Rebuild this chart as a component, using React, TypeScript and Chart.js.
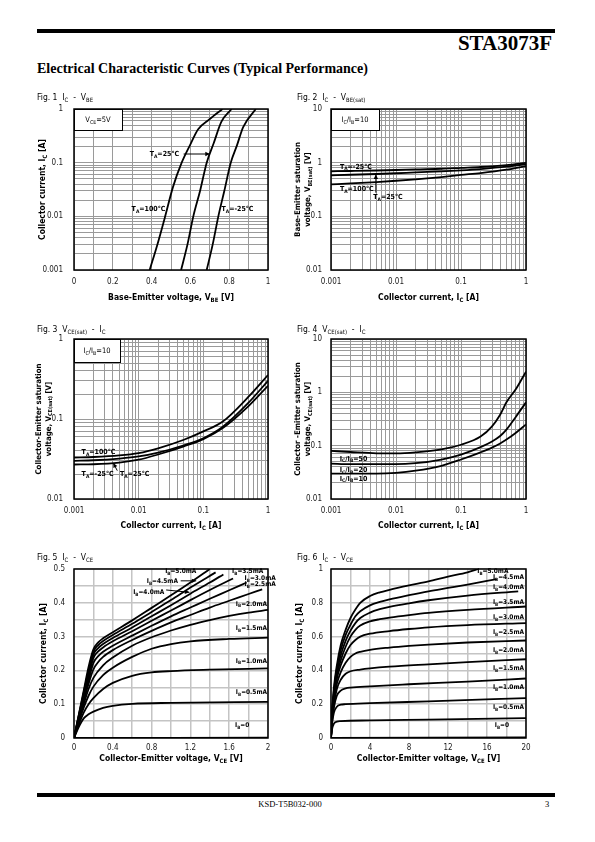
import React, { useEffect, useRef } from 'react';
import { Chart, registerables } from 'chart.js';

Chart.register(...registerables);

const SANS = "'Liberation Sans Narrow', 'DejaVu Sans Condensed', 'Liberation Sans', sans-serif";
const SERIF = "'Liberation Serif', 'Times New Roman', serif";

type P = [number, number];

// ---------- Fig. 1  IC - VBE  (x: VBE [V], y: IC [A]) ----------
const fig1Ta100: P[] = [[0.39, 0.001], [0.43, 0.003], [0.47, 0.01], [0.51, 0.035], [0.555, 0.1], [0.6, 0.22], [0.64, 0.42], [0.7, 0.65], [0.765, 1]];
const fig1Ta25: P[] = [[0.552, 0.001], [0.585, 0.003], [0.615, 0.01], [0.65, 0.03], [0.684, 0.1], [0.72, 0.23], [0.76, 0.58], [0.812, 1]];
const fig1TaM25: P[] = [[0.684, 0.001], [0.715, 0.003], [0.744, 0.01], [0.775, 0.03], [0.808, 0.1], [0.84, 0.21], [0.872, 0.46], [0.937, 1]];
const fig1XTicks = ['0', '0.2', '0.4', '0.6', '0.8', '1'];
const fig1YTicks = ['0.001', '0.01', '0.1', '1'];

// ---------- Fig. 2  VBE(sat) - IC ----------
const fig2Ic = [0.001, 0.002, 0.005, 0.01, 0.02, 0.05, 0.1, 0.2, 0.5, 1];
const fig2VbeM25 = [0.69, 0.7, 0.715, 0.73, 0.75, 0.77, 0.8, 0.83, 0.9, 0.99];
const fig2Vbe25 = [0.58, 0.595, 0.615, 0.635, 0.66, 0.69, 0.72, 0.76, 0.84, 0.94];
const fig2Vbe100 = [0.395, 0.41, 0.435, 0.46, 0.49, 0.54, 0.59, 0.64, 0.74, 0.86];
const fig2XTicks = ['0.001', '0.01', '0.1', '1'];
const fig2YTicks = ['0.01', '0.1', '1', '10'];

// ---------- Fig. 3  VCE(sat) - IC (IC/IB = 10) ----------
const fig3Ic = [0.001, 0.002, 0.005, 0.01, 0.02, 0.05, 0.1, 0.2, 0.5, 1];
const fig3Vce100 = [0.033, 0.0335, 0.035, 0.0375, 0.043, 0.055, 0.07, 0.093, 0.19, 0.355];
const fig3Vce25 = [0.03, 0.0305, 0.032, 0.034, 0.038, 0.047, 0.0575, 0.08, 0.16, 0.3];
const fig3VceM25 = [0.027, 0.0272, 0.0285, 0.031, 0.036, 0.0455, 0.056, 0.077, 0.145, 0.26];
const fig3XTicks = ['0.001', '0.01', '0.1', '1'];
const fig3YTicks = ['0.01', '0.1', '1'];

// ---------- Fig. 4  VCE(sat) - IC ----------
const fig4Ic = [0.001, 0.002, 0.005, 0.01, 0.02, 0.05, 0.1, 0.2, 0.3, 0.4, 0.5, 0.7, 1];
const fig4Vce50 = [0.08, 0.076, 0.072, 0.072, 0.075, 0.085, 0.104, 0.148, 0.23, 0.38, 0.65, 1.15, 2.45];
const fig4Vce20 = [0.046, 0.045, 0.045, 0.045, 0.047, 0.055, 0.068, 0.094, 0.12, 0.152, 0.2, 0.35, 0.65];
const fig4Vce10 = [0.03, 0.03, 0.03, 0.031, 0.034, 0.042, 0.055, 0.075, 0.092, 0.11, 0.13, 0.175, 0.25];
const fig4XTicks = ['0.001', '0.01', '0.1', '1'];
const fig4YTicks = ['0.01', '0.1', '1', '10'];

// ---------- Fig. 5  IC - VCE (0..2 V) ----------
const fig5Ib0: P[] = [[0, 0], [2, 0.001]];
const fig5Ib05: P[] = [[0, 0], [0.05, 0.033], [0.1, 0.058], [0.15, 0.07], [0.2, 0.078], [0.3, 0.089], [0.4, 0.095], [0.6, 0.101], [1.0, 0.104], [2.0, 0.107]];
const fig5Ib10: P[] = [[0, 0], [0.05, 0.04], [0.1, 0.075], [0.15, 0.1], [0.2, 0.118], [0.3, 0.145], [0.4, 0.163], [0.6, 0.184], [0.8, 0.194], [1.0, 0.198], [1.4, 0.202], [2.0, 0.206]];
const fig5Ib15: P[] = [[0, 0], [0.05, 0.048], [0.1, 0.09], [0.15, 0.125], [0.2, 0.152], [0.3, 0.186], [0.4, 0.208], [0.6, 0.24], [0.8, 0.264], [1.0, 0.278], [1.2, 0.286], [1.6, 0.293], [2.0, 0.297]];
const fig5Ib20: P[] = [[0, 0], [0.05, 0.053], [0.1, 0.1], [0.15, 0.145], [0.2, 0.178], [0.3, 0.215], [0.4, 0.238], [0.6, 0.273], [0.8, 0.298], [1.0, 0.318], [1.2, 0.335], [1.4, 0.349], [1.6, 0.361], [1.8, 0.371], [2.0, 0.379]];
const fig5Ib25: P[] = [[0, 0], [0.05, 0.057], [0.1, 0.11], [0.15, 0.16], [0.2, 0.203], [0.25, 0.225], [0.3, 0.24], [0.4, 0.26], [0.6, 0.29], [0.8, 0.317], [1.0, 0.342], [1.2, 0.364], [1.4, 0.386], [1.6, 0.406], [1.8, 0.426], [1.94, 0.44]];
const fig5Ib30: P[] = [[0, 0], [0.05, 0.06], [0.1, 0.118], [0.15, 0.17], [0.2, 0.222], [0.25, 0.242], [0.3, 0.255], [0.4, 0.273], [0.6, 0.303], [0.8, 0.332], [1.0, 0.36], [1.2, 0.386], [1.4, 0.412], [1.6, 0.437], [1.78, 0.46]];
const fig5Ib35: P[] = [[0, 0], [0.05, 0.062], [0.1, 0.125], [0.15, 0.18], [0.2, 0.237], [0.25, 0.256], [0.3, 0.268], [0.4, 0.286], [0.6, 0.316], [0.8, 0.347], [1.0, 0.377], [1.2, 0.408], [1.4, 0.438], [1.64, 0.472]];
const fig5Ib40: P[] = [[0, 0], [0.05, 0.065], [0.1, 0.13], [0.15, 0.19], [0.2, 0.247], [0.25, 0.266], [0.3, 0.278], [0.4, 0.296], [0.6, 0.327], [0.8, 0.36], [1.0, 0.393], [1.2, 0.427], [1.4, 0.46], [1.54, 0.484]];
const fig5Ib45: P[] = [[0, 0], [0.05, 0.068], [0.1, 0.135], [0.15, 0.2], [0.2, 0.255], [0.25, 0.275], [0.3, 0.287], [0.4, 0.305], [0.6, 0.338], [0.8, 0.373], [1.0, 0.408], [1.2, 0.445], [1.46, 0.49]];
const fig5Ib50: P[] = [[0, 0], [0.05, 0.07], [0.1, 0.14], [0.15, 0.21], [0.2, 0.262], [0.25, 0.283], [0.3, 0.295], [0.4, 0.313], [0.6, 0.348], [0.8, 0.385], [1.0, 0.422], [1.2, 0.46], [1.4, 0.5]];
const fig5XTicks = ['0', '0.4', '0.8', '1.2', '1.6', '2'];
const fig5YTicks = ['0', '0.1', '0.2', '0.3', '0.4', '0.5'];

// ---------- Fig. 6  IC - VCE (0..20 V) ----------
const fig6Ib0: P[] = [[0, 0], [20, 0.003]];
const fig6Ib05: P[] = [[0, 0], [0.1, 0.05], [0.3, 0.085], [0.6, 0.097], [1, 0.1], [4, 0.104], [10, 0.109], [20, 0.118]];
const fig6Ib10: P[] = [[0, 0], [0.1, 0.08], [0.3, 0.15], [0.6, 0.185], [1, 0.197], [1.5, 0.2], [4, 0.206], [10, 0.217], [20, 0.236]];
const fig6Ib15: P[] = [[0, 0], [0.1, 0.09], [0.3, 0.18], [0.6, 0.25], [1, 0.28], [1.5, 0.293], [2, 0.298], [4, 0.306], [8, 0.318], [14, 0.334], [20, 0.352]];
const fig6Ib20: P[] = [[0, 0], [0.1, 0.1], [0.3, 0.2], [0.6, 0.29], [1, 0.345], [1.5, 0.38], [2, 0.395], [3, 0.405], [4, 0.412], [6, 0.422], [10, 0.436], [14, 0.449], [20, 0.466]];
const fig6Ib25: P[] = [[0, 0], [0.1, 0.11], [0.3, 0.22], [0.6, 0.32], [1, 0.39], [1.5, 0.445], [2, 0.48], [2.5, 0.5], [3, 0.51], [4, 0.522], [6, 0.535], [8, 0.545], [10, 0.553], [14, 0.565], [20, 0.577]];
const fig6Ib30: P[] = [[0, 0], [0.1, 0.12], [0.3, 0.235], [0.6, 0.35], [1, 0.43], [1.5, 0.5], [2, 0.55], [2.5, 0.58], [3, 0.6], [4, 0.617], [6, 0.633], [8, 0.645], [10, 0.655], [14, 0.668], [20, 0.68]];
const fig6Ib35: P[] = [[0, 0], [0.1, 0.13], [0.3, 0.25], [0.6, 0.37], [1, 0.46], [1.5, 0.54], [2, 0.6], [2.5, 0.64], [3, 0.665], [4, 0.69], [5, 0.703], [6, 0.712], [8, 0.727], [10, 0.74], [14, 0.758], [20, 0.778]];
const fig6Ib40: P[] = [[0, 0], [0.1, 0.135], [0.3, 0.265], [0.6, 0.39], [1, 0.49], [1.5, 0.575], [2, 0.635], [2.5, 0.68], [3, 0.71], [4, 0.742], [5, 0.762], [6, 0.776], [8, 0.797], [10, 0.815], [14, 0.843], [19.2, 0.868]];
const fig6Ib45: P[] = [[0, 0], [0.1, 0.14], [0.3, 0.28], [0.6, 0.41], [1, 0.52], [1.5, 0.61], [2, 0.67], [2.5, 0.72], [3, 0.75], [4, 0.785], [5, 0.805], [6, 0.82], [8, 0.845], [10, 0.868], [12, 0.888], [14, 0.908], [17, 0.94]];
const fig6Ib50: P[] = [[0, 0], [0.1, 0.15], [0.3, 0.3], [0.6, 0.43], [1, 0.55], [1.5, 0.64], [2, 0.71], [2.5, 0.76], [3, 0.8], [4, 0.84], [5, 0.862], [6, 0.877], [8, 0.903], [10, 0.927], [12, 0.955], [14, 0.98], [15.1, 1.0]];
const fig6XTicks = ['0', '4', '8', '12', '16', '20'];
const fig6YTicks = ['0', '0.2', '0.4', '0.6', '0.8', '1'];

// ---------- helpers ----------
const zip = (xs: number[], ys: number[]): P[] => xs.map((x, i) => [x, ys[i]]);

function logGrid(min: number, max: number): number[] {
  const out: number[] = [];
  const e0 = Math.round(Math.log10(min));
  const e1 = Math.round(Math.log10(max));
  for (let e = e0; e < e1; e++) for (let m = 1; m < 10; m++) out.push(parseFloat((m * Math.pow(10, e)).toPrecision(6)));
  out.push(max);
  return out;
}
function linGrid(min: number, max: number, step: number): number[] {
  const out: number[] = [];
  const n = Math.round((max - min) / step);
  for (let i = 0; i <= n; i++) out.push(parseFloat((min + i * step).toPrecision(10)));
  return out;
}

type Seg = { t: string; sub: boolean };
function parseRich(s: string): Seg[] {
  const out: Seg[] = [];
  const re = /_\{([^}]*)\}/g;
  let last = 0;
  let m: RegExpExecArray | null;
  while ((m = re.exec(s))) {
    if (m.index > last) out.push({ t: s.slice(last, m.index), sub: false });
    out.push({ t: m[1], sub: true });
    last = re.lastIndex;
  }
  if (last < s.length) out.push({ t: s.slice(last), sub: false });
  return out;
}
function drawRich(ctx: CanvasRenderingContext2D, s: string, x: number, y: number, size: number, bold: boolean, align: 'left' | 'center' | 'right', family = SANS) {
  const segs = parseRich(s);
  const setFont = (sg: Seg) => { ctx.font = `${bold ? 'bold ' : ''}${sg.sub ? size * 0.7 : size}px ${family}`; };
  let total = 0;
  for (const sg of segs) { setFont(sg); total += ctx.measureText(sg.t).width; }
  let cx = align === 'center' ? x - total / 2 : align === 'right' ? x - total : x;
  ctx.textAlign = 'left';
  ctx.textBaseline = 'alphabetic';
  for (const sg of segs) {
    setFont(sg);
    ctx.fillText(sg.t, cx, sg.sub ? y + size * 0.25 : y);
    cx += ctx.measureText(sg.t).width;
  }
}

type Label = { x: number; y: number; t: string; align: 'left' | 'center' | 'right'; size?: number; bold?: boolean };
type Arrow = { x1: number; y1: number; x2: number; y2: number };
type Spec = {
  left: number; top: number; w: number; h: number;
  axisW: number; axisH: number; padTop: number; padRight: number;
  xPad: number; yPad: number;
  xType: 'linear' | 'logarithmic'; yType: 'linear' | 'logarithmic';
  xMin: number; xMax: number; yMin: number; yMax: number;
  xGrid: number[]; yGrid: number[]; xTicks: string[]; yTicks: string[];
  gridColor: string; gridWidth: number;
  series: P[][];
  labels: Label[]; arrows: Arrow[];
  box?: { t: string; w: number; h: number };
  figTitle: string; xTitle: string; yTitle: string[]; yTitleX: number[];
  xTitleY: number;
};

function tickCb(labels: string[]) {
  return (v: number) => {
    const l = labels.find((t) => { const n = parseFloat(t); return Math.abs(n - v) <= 1e-7 * Math.max(Math.abs(n), 1e-6); });
    return l === undefined ? '' : l;
  };
}

function axis(spec: Spec, isY: boolean) {
  const grid = isY ? spec.yGrid : spec.xGrid;
  return {
    type: isY ? spec.yType : spec.xType,
    position: isY ? 'left' : 'bottom',
    min: isY ? spec.yMin : spec.xMin,
    max: isY ? spec.yMax : spec.xMax,
    afterBuildTicks: (s: any) => { s.ticks = grid.map((v) => ({ value: v })); },
    afterFit: (s: any) => { if (isY) s.width = spec.axisW; else s.height = spec.axisH; },
    grid: { color: spec.gridColor, lineWidth: spec.gridWidth, drawTicks: false },
    border: { display: false },
    ticks: {
      autoSkip: false, maxRotation: 0, minRotation: 0,
      padding: isY ? spec.yPad : spec.xPad,
      color: '#1a1a1a',
      font: { family: SANS, size: 8 },
      callback: tickCb(isY ? spec.yTicks : spec.xTicks),
    },
  };
}

function overlay(spec: Spec) {
  return {
    id: 'overlay',
    afterDatasetsDraw(chart: any) {
      const { ctx, chartArea: a, scales } = chart;
      const xs = scales.x, ys = scales.y;
      ctx.save();
      if (spec.box) {
        ctx.fillStyle = '#fff';
        ctx.fillRect(a.left, a.top, spec.box.w, spec.box.h);
        ctx.strokeStyle = '#000';
        ctx.lineWidth = 1;
        ctx.strokeRect(a.left + 0.5, a.top + 0.5, spec.box.w, spec.box.h);
        ctx.fillStyle = '#000';
        drawRich(ctx, spec.box.t, a.left + spec.box.w / 2, a.top + spec.box.h / 2 + 2.5, 7.5, false, 'center');
      }
      ctx.strokeStyle = '#000';
      ctx.fillStyle = '#000';
      for (const ar of spec.arrows) {
        const x1 = xs.getPixelForValue(ar.x1), y1 = ys.getPixelForValue(ar.y1);
        const x2 = xs.getPixelForValue(ar.x2), y2 = ys.getPixelForValue(ar.y2);
        ctx.lineWidth = 1;
        ctx.beginPath(); ctx.moveTo(x1, y1); ctx.lineTo(x2, y2); ctx.stroke();
        const ang = Math.atan2(y2 - y1, x2 - x1);
        const L = 4.5, Wd = 2.2;
        ctx.beginPath();
        ctx.moveTo(x2, y2);
        ctx.lineTo(x2 - L * Math.cos(ang) + Wd * Math.sin(ang), y2 - L * Math.sin(ang) - Wd * Math.cos(ang));
        ctx.lineTo(x2 - L * Math.cos(ang) - Wd * Math.sin(ang), y2 - L * Math.sin(ang) + Wd * Math.cos(ang));
        ctx.closePath(); ctx.fill();
      }
      for (const l of spec.labels) {
        const size = l.size ?? 7;
        const px = xs.getPixelForValue(l.x), py = ys.getPixelForValue(l.y);
        drawRich(ctx, l.t, px, py + size * 0.35, size, l.bold ?? true, l.align);
      }
      ctx.strokeStyle = '#000';
      ctx.lineWidth = 1.5;
      ctx.strokeRect(a.left, a.top, a.right - a.left, a.bottom - a.top);
      ctx.fillStyle = '#000';
      drawRich(ctx, spec.figTitle, 7, 13.5, 8.5, false, 'left');
      drawRich(ctx, spec.xTitle, (a.left + a.right) / 2, spec.xTitleY, 8.5, true, 'center');
      const ySize = spec.yTitle.length > 1 ? 7.8 : 8.5;
      spec.yTitle.forEach((t, i) => {
        ctx.save();
        ctx.translate(spec.yTitleX[i], (a.top + a.bottom) / 2);
        ctx.rotate(-Math.PI / 2);
        drawRich(ctx, t, 0, 0, ySize, true, 'center');
        ctx.restore();
      });
      ctx.restore();
    },
  };
}

function Panel({ spec }: { spec: Spec }) {
  const ref = useRef<HTMLCanvasElement>(null);
  useEffect(() => {
    const cfg: any = {
      type: 'scatter',
      data: {
        datasets: spec.series.map((pts) => ({
          data: pts.map(([x, y]) => ({ x, y })),
          showLine: true,
          borderColor: '#000',
          borderWidth: 1.8,
          pointRadius: 0,
          fill: false,
          cubicInterpolationMode: 'monotone',
        })),
      },
      options: {
        animation: false,
        responsive: false,
        maintainAspectRatio: false,
        events: [],
        layout: { padding: { top: spec.padTop, right: spec.padRight, left: 0, bottom: 0 } },
        plugins: { legend: { display: false }, tooltip: { enabled: false }, title: { display: false } },
        scales: { x: axis(spec, false), y: axis(spec, true) },
      },
      plugins: [overlay(spec)],
    };
    const chart = new Chart(ref.current as HTMLCanvasElement, cfg);
    return () => chart.destroy();
  }, [spec]);
  return (
    <canvas
      ref={ref}
      width={spec.w}
      height={spec.h}
      style={{ position: 'absolute', left: spec.left, top: spec.top, width: spec.w, height: spec.h }}
    />
  );
}

// ---------- layout ----------
const LEFT = { left: 30, w: 260, axisW: 44, padRight: 22 };
const RIGHT = { left: 290, w: 260, axisW: 41, padRight: 24 };
const ROW1 = { top: 86, h: 224, padTop: 23, axisH: 40, xPad: 7, xTitleY: 214 };
const ROW2 = { top: 318, h: 222, padTop: 21, axisH: 41, xPad: 7, xTitleY: 210 };
const ROW3 = { top: 546, h: 229, padTop: 23, axisH: 37, xPad: 5, xTitleY: 215 };
const LOG_GRID = { gridColor: '#9a9a9a', gridWidth: 1 };
const LIN_GRID = { gridColor: '#c4c4c4', gridWidth: 1.5 };

const specs: Spec[] = [
  {
    ...LEFT, ...ROW1, ...LOG_GRID, yPad: 11,
    xType: 'linear', yType: 'logarithmic', xMin: 0, xMax: 1, yMin: 0.001, yMax: 1,
    xGrid: linGrid(0, 1, 0.1), yGrid: logGrid(0.001, 1), xTicks: fig1XTicks, yTicks: fig1YTicks,
    series: [fig1Ta100, fig1Ta25, fig1TaM25],
    labels: [
      { x: 0.39, y: 0.145, t: 'T_{A}=25℃', align: 'left' },
      { x: 0.297, y: 0.014, t: 'T_{A}=100℃', align: 'left' },
      { x: 0.76, y: 0.014, t: 'T_{A}=-25℃', align: 'left' },
    ],
    arrows: [{ x1: 0.565, y1: 0.145, x2: 0.7, y2: 0.145 }],
    box: { t: 'V_{CE}=5V', w: 48, h: 21 },
    figTitle: 'Fig. 1  I_{C}  -  V_{BE}', xTitle: 'Base-Emitter voltage, V_{BE} [V]',
    yTitle: ['Collector current, I_{C} [A]'], yTitleX: [15],
  },
  {
    ...RIGHT, ...ROW1, ...LOG_GRID, yPad: 9,
    xType: 'logarithmic', yType: 'logarithmic', xMin: 0.001, xMax: 1, yMin: 0.01, yMax: 10,
    xGrid: logGrid(0.001, 1), yGrid: logGrid(0.01, 10), xTicks: fig2XTicks, yTicks: fig2YTicks,
    series: [zip(fig2Ic, fig2VbeM25), zip(fig2Ic, fig2Vbe25), zip(fig2Ic, fig2Vbe100)],
    labels: [
      { x: 0.00137, y: 0.857, t: 'T_{A}=-25℃', align: 'left' },
      { x: 0.00137, y: 0.327, t: 'T_{A}=100℃', align: 'left' },
      { x: 0.00446, y: 0.234, t: 'T_{A}=25℃', align: 'left' },
    ],
    arrows: [{ x1: 0.0049, y1: 0.276, x2: 0.0049, y2: 0.6 }],
    box: { t: 'I_{C}/I_{B}=10', w: 48, h: 21 },
    figTitle: 'Fig. 2  I_{C}  -  V_{BE(sat)}', xTitle: 'Collector current, I_{C} [A]',
    yTitle: ['Base-Emitter saturation', 'voltage, V_{BE(sat)} [V]'], yTitleX: [10, 20],
  },
  {
    ...LEFT, ...ROW2, ...LOG_GRID, yPad: 11,
    xType: 'logarithmic', yType: 'logarithmic', xMin: 0.001, xMax: 1, yMin: 0.01, yMax: 1,
    xGrid: logGrid(0.001, 1), yGrid: logGrid(0.01, 1), xTicks: fig3XTicks, yTicks: fig3YTicks,
    series: [zip(fig3Ic, fig3Vce100), zip(fig3Ic, fig3Vce25), zip(fig3Ic, fig3VceM25)],
    labels: [
      { x: 0.00131, y: 0.0393, t: 'T_{A}=100℃', align: 'left' },
      { x: 0.00131, y: 0.0206, t: 'T_{A}=-25℃', align: 'left' },
      { x: 0.00513, y: 0.0206, t: 'T_{A}=25℃', align: 'left' },
    ],
    arrows: [{ x1: 0.00467, y1: 0.0226, x2: 0.00405, y2: 0.0282 }],
    box: { t: 'I_{C}/I_{B}=10', w: 46, h: 23 },
    figTitle: 'Fig. 3  V_{CE(sat)}  -  I_{C}', xTitle: 'Collector current, I_{C} [A]',
    yTitle: ['Collector-Emitter saturation', 'voltage, V_{CE(sat)} [V]'], yTitleX: [10.5, 20.5],
  },
  {
    ...RIGHT, ...ROW2, ...LOG_GRID, yPad: 9,
    xType: 'logarithmic', yType: 'logarithmic', xMin: 0.001, xMax: 1, yMin: 0.01, yMax: 10,
    xGrid: logGrid(0.001, 1), yGrid: logGrid(0.01, 10), xTicks: fig4XTicks, yTicks: fig4YTicks,
    series: [zip(fig4Ic, fig4Vce50), zip(fig4Ic, fig4Vce20), zip(fig4Ic, fig4Vce10)],
    labels: [
      { x: 0.00136, y: 0.058, t: 'I_{C}/I_{B}=50', align: 'left' },
      { x: 0.00136, y: 0.0357, t: 'I_{C}/I_{B}=20', align: 'left' },
      { x: 0.00136, y: 0.0246, t: 'I_{C}/I_{B}=10', align: 'left' },
    ],
    arrows: [],
    figTitle: 'Fig. 4  V_{CE(sat)}  -  I_{C}', xTitle: 'Collector current, I_{C} [A]',
    yTitle: ['Collector -Emitter saturation', 'voltage, V_{CE(sat)} [V]'], yTitleX: [10, 20],
  },
  {
    ...LEFT, ...ROW3, ...LIN_GRID, yPad: 9,
    xType: 'linear', yType: 'linear', xMin: 0, xMax: 2, yMin: 0, yMax: 0.5,
    xGrid: linGrid(0, 2, 0.2), yGrid: linGrid(0, 0.5, 0.05), xTicks: fig5XTicks, yTicks: fig5YTicks,
    series: [fig5Ib0, fig5Ib05, fig5Ib10, fig5Ib15, fig5Ib20, fig5Ib25, fig5Ib30, fig5Ib35, fig5Ib40, fig5Ib45, fig5Ib50],
    labels: [
      { x: 0.94, y: 0.494, t: 'I_{B}=5.0mA', align: 'left', size: 6.5 },
      { x: 0.75, y: 0.465, t: 'I_{B}=4.5mA', align: 'left', size: 6.5 },
      { x: 0.61, y: 0.433, t: 'I_{B}=4.0mA', align: 'left', size: 6.5 },
      { x: 1.63, y: 0.494, t: 'I_{B}=3.5mA', align: 'left', size: 6.5 },
      { x: 2.08, y: 0.473, t: 'I_{B}=3.0mA', align: 'right', size: 6.5 },
      { x: 2.08, y: 0.455, t: 'I_{B}=2.5mA', align: 'right', size: 6.5 },
      { x: 1.99, y: 0.398, t: 'I_{B}=2.0mA', align: 'right', size: 6.5 },
      { x: 1.99, y: 0.325, t: 'I_{B}=1.5mA', align: 'right', size: 6.5 },
      { x: 1.99, y: 0.23, t: 'I_{B}=1.0mA', align: 'right', size: 6.5 },
      { x: 1.99, y: 0.137, t: 'I_{B}=0.5mA', align: 'right', size: 6.5 },
      { x: 1.66, y: 0.038, t: 'I_{B}=0', align: 'left', size: 6.5 },
    ],
    arrows: [
      { x1: 1.1, y1: 0.465, x2: 1.26, y2: 0.465 },
      { x1: 0.95, y1: 0.438, x2: 1.19, y2: 0.431 },
    ],
    figTitle: 'Fig. 5  I_{C}  -  V_{CE}', xTitle: 'Collector-Emitter voltage, V_{CE} [V]',
    yTitle: ['Collector current, I_{C} [A]'], yTitleX: [15.5],
  },
  {
    ...RIGHT, ...ROW3, ...LIN_GRID, yPad: 8,
    xType: 'linear', yType: 'linear', xMin: 0, xMax: 20, yMin: 0, yMax: 1,
    xGrid: linGrid(0, 20, 2), yGrid: linGrid(0, 1, 0.1), xTicks: fig6XTicks, yTicks: fig6YTicks,
    series: [fig6Ib0, fig6Ib05, fig6Ib10, fig6Ib15, fig6Ib20, fig6Ib25, fig6Ib30, fig6Ib35, fig6Ib40, fig6Ib45, fig6Ib50],
    labels: [
      { x: 15.0, y: 0.99, t: 'I_{B}=5.0mA', align: 'left', size: 6.5 },
      { x: 19.8, y: 0.953, t: 'I_{B}=4.5mA', align: 'right', size: 6.5 },
      { x: 19.8, y: 0.893, t: 'I_{B}=4.0mA', align: 'right', size: 6.5 },
      { x: 19.8, y: 0.805, t: 'I_{B}=3.5mA', align: 'right', size: 6.5 },
      { x: 19.8, y: 0.716, t: 'I_{B}=3.0mA', align: 'right', size: 6.5 },
      { x: 19.8, y: 0.627, t: 'I_{B}=2.5mA', align: 'right', size: 6.5 },
      { x: 19.8, y: 0.521, t: 'I_{B}=2.0mA', align: 'right', size: 6.5 },
      { x: 19.8, y: 0.414, t: 'I_{B}=1.5mA', align: 'right', size: 6.5 },
      { x: 19.8, y: 0.302, t: 'I_{B}=1.0mA', align: 'right', size: 6.5 },
      { x: 19.8, y: 0.183, t: 'I_{B}=0.5mA', align: 'right', size: 6.5 },
      { x: 16.8, y: 0.077, t: 'I_{B}=0', align: 'left', size: 6.5 },
    ],
    arrows: [],
    figTitle: 'Fig. 6  I_{C}  -  V_{CE}', xTitle: 'Collector-Emitter voltage, V_{CE} [V]',
    yTitle: ['Collector current, I_{C} [A]'], yTitleX: [11.5],
  },
];

export default function App() {
  return (
    <div style={{ position: 'absolute', left: 0, top: 0, width: 595, height: 842, background: '#fff', overflow: 'hidden' }}>
      <div style={{ position: 'absolute', left: 37, top: 29, width: 518, height: 4, background: '#000' }} />
      <div style={{ position: 'absolute', right: 43, top: 33, fontFamily: SERIF, fontWeight: 'bold', fontSize: 21, lineHeight: '21px', color: '#000' }}>STA3073F</div>
      <div style={{ position: 'absolute', left: 37, top: 61, fontFamily: SERIF, fontWeight: 'bold', fontSize: 14, lineHeight: '16px', color: '#000', whiteSpace: 'nowrap' }}>
        Electrical Characteristic Curves (Typical Performance)
      </div>
      {specs.map((s, i) => <Panel key={i} spec={s} />)}
      <div style={{ position: 'absolute', left: 37, top: 793, width: 518, height: 4, background: '#000' }} />
      <div style={{ position: 'absolute', left: 190, width: 200, top: 799, textAlign: 'center', fontFamily: SERIF, fontSize: 8.5, lineHeight: '10px', color: '#000' }}>KSD-T5B032-000</div>
      <div style={{ position: 'absolute', left: 545, top: 799, fontFamily: SERIF, fontSize: 8.5, lineHeight: '10px', color: '#000' }}>3</div>
    </div>
  );
}
